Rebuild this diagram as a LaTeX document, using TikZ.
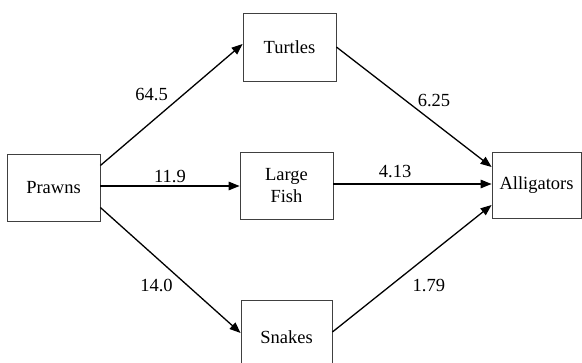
\documentclass[tikz,border=0pt]{standalone}
\usepackage{fontspec}
\setmainfont{Liberation Serif}
\usetikzlibrary{arrows.meta,positioning}

\begin{document}
\begin{tikzpicture}[x=1pt,y=-1pt,line width=1.3pt,
	box/.style={draw=black!75,line width=0.8pt,minimum width=93pt,minimum height=67pt,inner sep=0pt,align=center,font=\fontsize{18.5}{22}\selectfont},
	flow/.style={-{Triangle[length=11pt,width=8.5pt]}},
	lbl/.style={inner sep=0pt,font=\fontsize{18.5}{22}\selectfont}]
\useasboundingbox (0,0) rectangle (582,363);

\node[box] (prawns) at (53.5,187.5) {Prawns};
\node[box,minimum height=68pt] (turtles) at (289.5,47) {Turtles};
\node[box] (largefish) at (286.5,185.5) {Large\\Fish};
\node[box,minimum width=91pt,minimum height=74pt] (snakes) at (286.5,337) {Snakes};
\node[box,minimum width=89pt,minimum height=66pt] (alligators) at (536.5,185) {Alligators};

%prawns to the middle column
\draw[flow] ([yshift=22pt]prawns.east) -- ([yshift=3pt]turtles.west)
	node[lbl,pos=0.5,anchor=south east,xshift=-3pt,yshift=3pt] {64.5};
\draw[flow] ([yshift=1.5pt]prawns.east) -- ([yshift=-0.5pt]largefish.west)
	node[lbl,pos=0.5,above=3pt] {11.9};
\draw[flow] ([yshift=-20pt]prawns.east) -- ([yshift=4pt]snakes.west)
	node[lbl,pos=0.57,anchor=north east,xshift=-7pt] {14.0};

%middle column to alligators
\draw[flow] (turtles.east) -- ([yshift=18pt]alligators.west)
	node[lbl,pos=0.52,anchor=south west,yshift=2pt] {6.25};
\draw[flow] ([yshift=1.5pt]largefish.east) -- ([yshift=1pt]alligators.west)
	node[lbl,pos=0.39,above=6pt] {4.13};
\draw[flow] ([yshift=5pt]snakes.east) -- ([yshift=-20pt]alligators.west)
	node[lbl,pos=0.5,anchor=north west,yshift=-10pt] {1.79};

\end{tikzpicture}
\end{document}
